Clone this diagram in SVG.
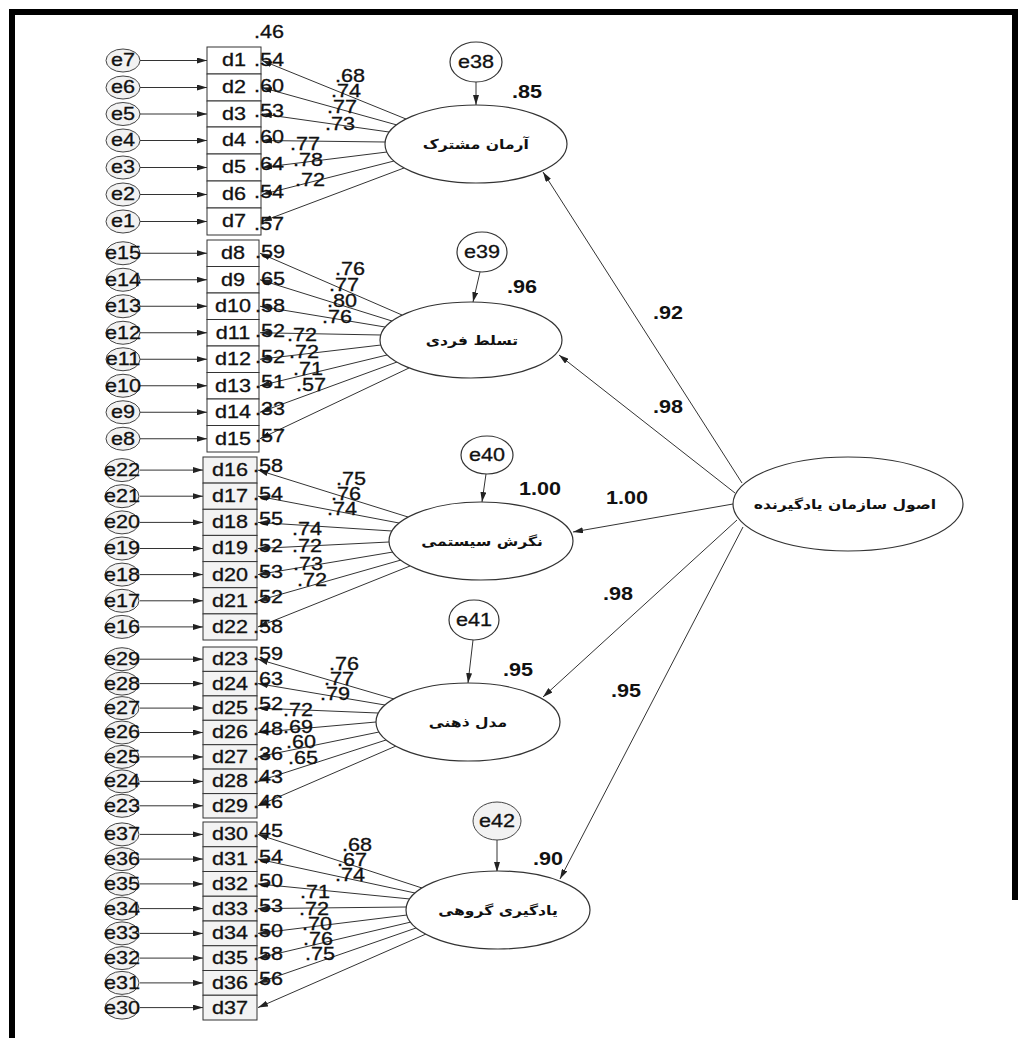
<svg xmlns="http://www.w3.org/2000/svg" width="1021" height="1038" viewBox="0 0 1021 1038">
<defs>
<marker id="ah" viewBox="0 0 10 6" refX="10" refY="3" markerWidth="10" markerHeight="6" markerUnits="userSpaceOnUse" orient="auto"><path d="M0,0L10,3L0,6z" fill="#222"/></marker>
<style>
.t{font-family:"Liberation Sans",Arial,sans-serif;font-size:18px;fill:#111;stroke:#111;stroke-width:0.3;text-anchor:middle;transform-box:fill-box;transform-origin:center;transform:scaleX(1.2)}
.b{font-weight:bold;stroke-width:0}
.fa{font-family:"DejaVu Sans",sans-serif;font-size:13px;font-weight:bold;fill:#111;text-anchor:middle;transform-box:fill-box;transform-origin:center;transform:scaleX(1.2)}
.ln{stroke:#333;stroke-width:1;fill:none;marker-end:url(#ah)}
.bx{fill:#fff;stroke:#333;stroke-width:1}
.bg{fill:#f3f3f3;stroke:#333;stroke-width:1}
.ec{fill:#f2f2f2;stroke:#444;stroke-width:1}
.lv{fill:#fff;stroke:#333;stroke-width:1.2}
</style>
</defs>
<rect width="1021" height="1038" fill="#fff"/>
<path d="M12,1038V12H1015V900" fill="none" stroke="#000" stroke-width="6"/>

<g id="connectors">
<line class="ln" x1="140" y1="60.5" x2="207" y2="60.5"/>
<line class="ln" x1="140" y1="87.5" x2="207" y2="87.5"/>
<line class="ln" x1="140" y1="114" x2="207" y2="114"/>
<line class="ln" x1="140" y1="140.5" x2="207" y2="140.5"/>
<line class="ln" x1="140" y1="167.5" x2="207" y2="167.5"/>
<line class="ln" x1="140" y1="194.5" x2="207" y2="194.5"/>
<line class="ln" x1="140" y1="221.5" x2="207" y2="221.5"/>
<line class="ln" x1="140" y1="253.25" x2="207" y2="253.25"/>
<line class="ln" x1="140" y1="279.75" x2="207" y2="279.75"/>
<line class="ln" x1="140" y1="306.25" x2="207" y2="306.25"/>
<line class="ln" x1="140" y1="332.75" x2="207" y2="332.75"/>
<line class="ln" x1="140" y1="359.25" x2="207" y2="359.25"/>
<line class="ln" x1="140" y1="385.75" x2="207" y2="385.75"/>
<line class="ln" x1="140" y1="412.25" x2="207" y2="412.25"/>
<line class="ln" x1="140" y1="438.75" x2="207" y2="438.75"/>
<line class="ln" x1="140" y1="470.1" x2="203" y2="470.1"/>
<line class="ln" x1="140" y1="496.2" x2="203" y2="496.2"/>
<line class="ln" x1="140" y1="522.4" x2="203" y2="522.4"/>
<line class="ln" x1="140" y1="548.5" x2="203" y2="548.5"/>
<line class="ln" x1="140" y1="574.6" x2="203" y2="574.6"/>
<line class="ln" x1="140" y1="600.8" x2="203" y2="600.8"/>
<line class="ln" x1="140" y1="626.9" x2="203" y2="626.9"/>
<line class="ln" x1="140" y1="659.2" x2="203" y2="659.2"/>
<line class="ln" x1="140" y1="683.6" x2="203" y2="683.6"/>
<line class="ln" x1="140" y1="708.1" x2="203" y2="708.1"/>
<line class="ln" x1="140" y1="732.5" x2="203" y2="732.5"/>
<line class="ln" x1="140" y1="756.9" x2="203" y2="756.9"/>
<line class="ln" x1="140" y1="781.4" x2="203" y2="781.4"/>
<line class="ln" x1="140" y1="805.8" x2="203" y2="805.8"/>
<line class="ln" x1="140" y1="834.4" x2="203" y2="834.4"/>
<line class="ln" x1="140" y1="859.1" x2="203" y2="859.1"/>
<line class="ln" x1="140" y1="883.9" x2="203" y2="883.9"/>
<line class="ln" x1="140" y1="908.6" x2="203" y2="908.6"/>
<line class="ln" x1="140" y1="933.4" x2="203" y2="933.4"/>
<line class="ln" x1="140" y1="958.1" x2="203" y2="958.1"/>
<line class="ln" x1="140" y1="982.9" x2="203" y2="982.9"/>
<line class="ln" x1="140" y1="1007.6" x2="203" y2="1007.6"/>
<line class="ln" x1="406" y1="119" x2="262" y2="60.5"/>
<line class="ln" x1="397" y1="125" x2="262" y2="87.5"/>
<line class="ln" x1="389" y1="132" x2="262" y2="114"/>
<line class="ln" x1="385" y1="142" x2="262" y2="140.5"/>
<line class="ln" x1="387" y1="152" x2="262" y2="167.5"/>
<line class="ln" x1="394" y1="161" x2="262" y2="194.5"/>
<line class="ln" x1="404" y1="168" x2="262" y2="221.5"/>
<line class="ln" x1="402" y1="315" x2="260" y2="253.25"/>
<line class="ln" x1="392" y1="321" x2="260" y2="279.75"/>
<line class="ln" x1="385" y1="327" x2="260" y2="306.25"/>
<line class="ln" x1="381" y1="335" x2="260" y2="332.75"/>
<line class="ln" x1="381" y1="345" x2="260" y2="359.25"/>
<line class="ln" x1="387" y1="355" x2="260" y2="385.75"/>
<line class="ln" x1="397" y1="362" x2="260" y2="412.25"/>
<line class="ln" x1="409" y1="368" x2="260" y2="438.75"/>
<line class="ln" x1="408" y1="517" x2="258" y2="470.1"/>
<line class="ln" x1="399" y1="523" x2="258" y2="496.2"/>
<line class="ln" x1="392" y1="531" x2="258" y2="522.4"/>
<line class="ln" x1="389" y1="542" x2="258" y2="548.5"/>
<line class="ln" x1="393" y1="552" x2="258" y2="574.6"/>
<line class="ln" x1="401" y1="560" x2="258" y2="600.8"/>
<line class="ln" x1="410" y1="566" x2="258" y2="626.9"/>
<line class="ln" x1="394" y1="699" x2="258" y2="659.2"/>
<line class="ln" x1="385" y1="705" x2="258" y2="683.6"/>
<line class="ln" x1="378" y1="713" x2="258" y2="708.1"/>
<line class="ln" x1="376" y1="722" x2="258" y2="732.5"/>
<line class="ln" x1="379" y1="732" x2="258" y2="756.9"/>
<line class="ln" x1="386" y1="740" x2="258" y2="781.4"/>
<line class="ln" x1="396" y1="746" x2="258" y2="805.8"/>
<line class="ln" x1="422" y1="888" x2="258" y2="834.4"/>
<line class="ln" x1="415" y1="893" x2="258" y2="859.1"/>
<line class="ln" x1="410" y1="899" x2="258" y2="883.9"/>
<line class="ln" x1="406" y1="907" x2="258" y2="908.6"/>
<line class="ln" x1="407" y1="915" x2="258" y2="933.4"/>
<line class="ln" x1="411" y1="922" x2="258" y2="958.1"/>
<line class="ln" x1="416" y1="928" x2="258" y2="982.9"/>
<line class="ln" x1="426" y1="934" x2="258" y2="1007.6"/>
<line class="ln" x1="476" y1="82" x2="476" y2="105"/>
<line class="ln" x1="480" y1="272" x2="473" y2="302"/>
<line class="ln" x1="486" y1="474" x2="482" y2="502"/>
<line class="ln" x1="473" y1="640" x2="468" y2="683"/>
<line class="ln" x1="497" y1="840" x2="497" y2="872"/>
<line class="ln" x1="742" y1="483" x2="543" y2="172"/>
<line class="ln" x1="735" y1="493" x2="559" y2="355"/>
<line class="ln" x1="733" y1="504" x2="573" y2="532"/>
<line class="ln" x1="737" y1="520" x2="543" y2="697"/>
<line class="ln" x1="743" y1="527" x2="560" y2="879"/>
</g>

<g id="e7"><ellipse class="ec" cx="123" cy="60.5" rx="17" ry="11.5"/><text class="t" x="123" y="66.5">e7</text></g>
<g id="e6"><ellipse class="ec" cx="123" cy="87.5" rx="17" ry="11.5"/><text class="t" x="123" y="93.5">e6</text></g>
<g id="e5"><ellipse class="ec" cx="123" cy="114" rx="17" ry="11.5"/><text class="t" x="123" y="120">e5</text></g>
<g id="e4"><ellipse class="ec" cx="123" cy="140.5" rx="17" ry="11.5"/><text class="t" x="123" y="146.5">e4</text></g>
<g id="e3"><ellipse class="ec" cx="123" cy="167.5" rx="17" ry="11.5"/><text class="t" x="123" y="173.5">e3</text></g>
<g id="e2"><ellipse class="ec" cx="123" cy="194.5" rx="17" ry="11.5"/><text class="t" x="123" y="200.5">e2</text></g>
<g id="e1"><ellipse class="ec" cx="123" cy="221.5" rx="17" ry="11.5"/><text class="t" x="123" y="227.5">e1</text></g>
<g id="e15"><ellipse class="ec" cx="123" cy="253.25" rx="17" ry="11.5"/><text class="t" x="123" y="259.25">e15</text></g>
<g id="e14"><ellipse class="ec" cx="123" cy="279.75" rx="17" ry="11.5"/><text class="t" x="123" y="285.75">e14</text></g>
<g id="e13"><ellipse class="ec" cx="123" cy="306.25" rx="17" ry="11.5"/><text class="t" x="123" y="312.25">e13</text></g>
<g id="e12"><ellipse class="ec" cx="123" cy="332.75" rx="17" ry="11.5"/><text class="t" x="123" y="338.75">e12</text></g>
<g id="e11"><ellipse class="ec" cx="123" cy="359.25" rx="17" ry="11.5"/><text class="t" x="123" y="365.25">e11</text></g>
<g id="e10"><ellipse class="ec" cx="123" cy="385.75" rx="17" ry="11.5"/><text class="t" x="123" y="391.75">e10</text></g>
<g id="e9"><ellipse class="ec" cx="123" cy="412.25" rx="17" ry="11.5"/><text class="t" x="123" y="418.25">e9</text></g>
<g id="e8"><ellipse class="ec" cx="123" cy="438.75" rx="17" ry="11.5"/><text class="t" x="123" y="444.75">e8</text></g>
<g id="e22"><ellipse class="ec" cx="122" cy="470.1" rx="17" ry="11.5"/><text class="t" x="122" y="476.1">e22</text></g>
<g id="e21"><ellipse class="ec" cx="122" cy="496.2" rx="17" ry="11.5"/><text class="t" x="122" y="502.2">e21</text></g>
<g id="e20"><ellipse class="ec" cx="122" cy="522.4" rx="17" ry="11.5"/><text class="t" x="122" y="528.4">e20</text></g>
<g id="e19"><ellipse class="ec" cx="122" cy="548.5" rx="17" ry="11.5"/><text class="t" x="122" y="554.5">e19</text></g>
<g id="e18"><ellipse class="ec" cx="122" cy="574.6" rx="17" ry="11.5"/><text class="t" x="122" y="580.6">e18</text></g>
<g id="e17"><ellipse class="ec" cx="122" cy="600.8" rx="17" ry="11.5"/><text class="t" x="122" y="606.8">e17</text></g>
<g id="e16"><ellipse class="ec" cx="122" cy="626.9" rx="17" ry="11.5"/><text class="t" x="122" y="632.9">e16</text></g>
<g id="e29"><ellipse class="ec" cx="122" cy="659.2" rx="17" ry="11.5"/><text class="t" x="122" y="665.2">e29</text></g>
<g id="e28"><ellipse class="ec" cx="122" cy="683.6" rx="17" ry="11.5"/><text class="t" x="122" y="689.6">e28</text></g>
<g id="e27"><ellipse class="ec" cx="122" cy="708.1" rx="17" ry="11.5"/><text class="t" x="122" y="714.1">e27</text></g>
<g id="e26"><ellipse class="ec" cx="122" cy="732.5" rx="17" ry="11.5"/><text class="t" x="122" y="738.5">e26</text></g>
<g id="e25"><ellipse class="ec" cx="122" cy="756.9" rx="17" ry="11.5"/><text class="t" x="122" y="762.9">e25</text></g>
<g id="e24"><ellipse class="ec" cx="122" cy="781.4" rx="17" ry="11.5"/><text class="t" x="122" y="787.4">e24</text></g>
<g id="e23"><ellipse class="ec" cx="122" cy="805.8" rx="17" ry="11.5"/><text class="t" x="122" y="811.8">e23</text></g>
<g id="e37"><ellipse class="ec" cx="122" cy="834.4" rx="17" ry="11.5"/><text class="t" x="122" y="840.4">e37</text></g>
<g id="e36"><ellipse class="ec" cx="122" cy="859.1" rx="17" ry="11.5"/><text class="t" x="122" y="865.1">e36</text></g>
<g id="e35"><ellipse class="ec" cx="122" cy="883.9" rx="17" ry="11.5"/><text class="t" x="122" y="889.9">e35</text></g>
<g id="e34"><ellipse class="ec" cx="122" cy="908.6" rx="17" ry="11.5"/><text class="t" x="122" y="914.6">e34</text></g>
<g id="e33"><ellipse class="ec" cx="122" cy="933.4" rx="17" ry="11.5"/><text class="t" x="122" y="939.4">e33</text></g>
<g id="e32"><ellipse class="ec" cx="122" cy="958.1" rx="17" ry="11.5"/><text class="t" x="122" y="964.1">e32</text></g>
<g id="e31"><ellipse class="ec" cx="122" cy="982.9" rx="17" ry="11.5"/><text class="t" x="122" y="988.9">e31</text></g>
<g id="e30"><ellipse class="ec" cx="122" cy="1007.6" rx="17" ry="11.5"/><text class="t" x="122" y="1013.6">e30</text></g>

<g id="d1"><rect class="bx" x="207" y="47" width="54" height="27"/><text class="t" x="234" y="66.5">d1</text></g>
<g id="d2"><rect class="bx" x="207" y="74" width="54" height="27"/><text class="t" x="234" y="93.5">d2</text></g>
<g id="d3"><rect class="bx" x="207" y="101" width="54" height="26"/><text class="t" x="234" y="120">d3</text></g>
<g id="d4"><rect class="bx" x="207" y="127" width="54" height="27"/><text class="t" x="234" y="146.5">d4</text></g>
<g id="d5"><rect class="bx" x="207" y="154" width="54" height="27"/><text class="t" x="234" y="173.5">d5</text></g>
<g id="d6"><rect class="bx" x="207" y="181" width="54" height="27"/><text class="t" x="234" y="200.5">d6</text></g>
<g id="d7"><rect class="bx" x="207" y="208" width="54" height="27"/><text class="t" x="234" y="227.5">d7</text></g>
<g id="d8"><rect class="bx" x="207" y="240" width="52" height="26.5"/><text class="t" x="233" y="259.25">d8</text></g>
<g id="d9"><rect class="bx" x="207" y="266.5" width="52" height="26.5"/><text class="t" x="233" y="285.75">d9</text></g>
<g id="d10"><rect class="bx" x="207" y="293" width="52" height="26.5"/><text class="t" x="233" y="312.25">d10</text></g>
<g id="d11"><rect class="bx" x="207" y="319.5" width="52" height="26.5"/><text class="t" x="233" y="338.75">d11</text></g>
<g id="d12"><rect class="bx" x="207" y="346" width="52" height="26.5"/><text class="t" x="233" y="365.25">d12</text></g>
<g id="d13"><rect class="bx" x="207" y="372.5" width="52" height="26.5"/><text class="t" x="233" y="391.75">d13</text></g>
<g id="d14"><rect class="bx" x="207" y="399" width="52" height="26.5"/><text class="t" x="233" y="418.25">d14</text></g>
<g id="d15"><rect class="bx" x="207" y="425.5" width="52" height="26.5"/><text class="t" x="233" y="444.75">d15</text></g>
<g id="d16"><rect class="bg" x="203" y="457" width="54" height="26.1"/><text class="t" x="230" y="476.1">d16</text></g>
<g id="d17"><rect class="bg" x="203" y="483.1" width="54" height="26.2"/><text class="t" x="230" y="502.2">d17</text></g>
<g id="d18"><rect class="bg" x="203" y="509.3" width="54" height="26.1"/><text class="t" x="230" y="528.4">d18</text></g>
<g id="d19"><rect class="bg" x="203" y="535.4" width="54" height="26.2"/><text class="t" x="230" y="554.5">d19</text></g>
<g id="d20"><rect class="bg" x="203" y="561.6" width="54" height="26.1"/><text class="t" x="230" y="580.6">d20</text></g>
<g id="d21"><rect class="bg" x="203" y="587.7" width="54" height="26.2"/><text class="t" x="230" y="606.8">d21</text></g>
<g id="d22"><rect class="bg" x="203" y="613.9" width="54" height="26.1"/><text class="t" x="230" y="632.9">d22</text></g>
<g id="d23"><rect class="bg" x="203" y="647" width="54" height="24.4"/><text class="t" x="230" y="665.2">d23</text></g>
<g id="d24"><rect class="bg" x="203" y="671.4" width="54" height="24.5"/><text class="t" x="230" y="689.6">d24</text></g>
<g id="d25"><rect class="bg" x="203" y="695.9" width="54" height="24.4"/><text class="t" x="230" y="714.1">d25</text></g>
<g id="d26"><rect class="bg" x="203" y="720.3" width="54" height="24.4"/><text class="t" x="230" y="738.5">d26</text></g>
<g id="d27"><rect class="bg" x="203" y="744.7" width="54" height="24.4"/><text class="t" x="230" y="762.9">d27</text></g>
<g id="d28"><rect class="bg" x="203" y="769.1" width="54" height="24.5"/><text class="t" x="230" y="787.4">d28</text></g>
<g id="d29"><rect class="bg" x="203" y="793.6" width="54" height="24.4"/><text class="t" x="230" y="811.8">d29</text></g>
<g id="d30"><rect class="bg" x="203" y="822" width="54" height="24.75"/><text class="t" x="230" y="840.4">d30</text></g>
<g id="d31"><rect class="bg" x="203" y="846.75" width="54" height="24.75"/><text class="t" x="230" y="865.1">d31</text></g>
<g id="d32"><rect class="bg" x="203" y="871.5" width="54" height="24.75"/><text class="t" x="230" y="889.9">d32</text></g>
<g id="d33"><rect class="bg" x="203" y="896.25" width="54" height="24.75"/><text class="t" x="230" y="914.6">d33</text></g>
<g id="d34"><rect class="bg" x="203" y="921" width="54" height="24.75"/><text class="t" x="230" y="939.4">d34</text></g>
<g id="d35"><rect class="bg" x="203" y="945.75" width="54" height="24.75"/><text class="t" x="230" y="964.1">d35</text></g>
<g id="d36"><rect class="bg" x="203" y="970.5" width="54" height="24.75"/><text class="t" x="230" y="988.9">d36</text></g>
<g id="d37"><rect class="bg" x="203" y="995.25" width="54" height="24.75"/><text class="t" x="230" y="1013.6">d37</text></g>

<g id="F1"><ellipse class="lv" cx="476" cy="144" rx="91" ry="39"/><text class="fa" x="476" y="149">آرمان مشترک</text></g>
<g id="F2"><ellipse class="lv" cx="471" cy="340" rx="91" ry="38"/><text class="fa" x="472" y="345">تسلط فردی</text></g>
<g id="F3"><ellipse class="lv" cx="481" cy="541" rx="92" ry="39"/><text class="fa" x="482" y="546">نگرش سیستمی</text></g>
<g id="F4"><ellipse class="lv" cx="468" cy="722" rx="92" ry="39"/><text class="fa" x="468" y="727">مدل ذهنی</text></g>
<g id="F5"><ellipse class="lv" cx="498" cy="910" rx="92" ry="39"/><text class="fa" x="498" y="915">یادگیری گروهی</text></g>
<g id="G"><ellipse class="lv" cx="848" cy="504" rx="115" ry="47"/><text class="fa" x="845" y="509">اصول سازمان یادگیرنده</text></g>

<g id="e38"><ellipse class="lv" cx="476" cy="62" rx="26" ry="20"/><text class="t" x="476" y="68">e38</text></g>
<g id="e39"><ellipse class="lv" cx="482" cy="252" rx="25" ry="20"/><text class="t" x="482" y="258">e39</text></g>
<g id="e40"><ellipse class="lv" cx="487" cy="455" rx="26" ry="19"/><text class="t" x="487" y="461">e40</text></g>
<g id="e41"><ellipse class="lv" cx="474" cy="620" rx="25" ry="20"/><text class="t" x="474" y="626">e41</text></g>
<g id="e42"><ellipse class="ec" cx="497" cy="821" rx="24" ry="19"/><text class="t" x="497" y="827">e42</text></g>

<g id="labels">
<text class="t" x="269" y="38">.46</text>
<text class="t" x="269" y="66">.54</text>
<text class="t" x="269" y="92">.60</text>
<text class="t" x="269" y="117">.53</text>
<text class="t" x="269" y="143">.60</text>
<text class="t" x="269" y="170">.64</text>
<text class="t" x="269" y="198">.54</text>
<text class="t" x="269" y="230">.57</text>
<text class="t" x="270" y="258">.59</text>
<text class="t" x="270" y="285">.65</text>
<text class="t" x="270" y="312">.58</text>
<text class="t" x="270" y="337">.52</text>
<text class="t" x="270" y="363">.52</text>
<text class="t" x="270" y="388">.51</text>
<text class="t" x="270" y="415">.33</text>
<text class="t" x="270" y="442">.57</text>
<text class="t" x="268" y="472">.58</text>
<text class="t" x="268" y="500">.54</text>
<text class="t" x="268" y="525">.55</text>
<text class="t" x="268" y="552">.52</text>
<text class="t" x="268" y="578">.53</text>
<text class="t" x="268" y="603">.52</text>
<text class="t" x="268" y="633">.58</text>
<text class="t" x="268" y="660">.59</text>
<text class="t" x="268" y="685">.63</text>
<text class="t" x="268" y="710">.52</text>
<text class="t" x="268" y="735">.48</text>
<text class="t" x="268" y="760">.36</text>
<text class="t" x="268" y="783">.43</text>
<text class="t" x="268" y="808">.46</text>
<text class="t" x="268" y="837">.45</text>
<text class="t" x="268" y="863">.54</text>
<text class="t" x="268" y="887">.50</text>
<text class="t" x="268" y="912">.53</text>
<text class="t" x="268" y="937">.50</text>
<text class="t" x="268" y="960">.58</text>
<text class="t" x="268" y="985">.56</text>

<text class="t" x="350" y="82">.68</text>
<text class="t" x="346" y="97">.74</text>
<text class="t" x="342" y="113">.77</text>
<text class="t" x="340" y="130">.73</text>
<text class="t" x="305" y="150">.77</text>
<text class="t" x="308" y="166">.78</text>
<text class="t" x="310" y="186">.72</text>
<text class="t" x="350" y="275">.76</text>
<text class="t" x="344" y="291">.77</text>
<text class="t" x="342" y="307">.80</text>
<text class="t" x="337" y="323">.76</text>
<text class="t" x="302" y="341">.72</text>
<text class="t" x="304" y="358">.72</text>
<text class="t" x="308" y="375">.71</text>
<text class="t" x="311" y="391">.57</text>
<text class="t" x="351" y="485">.75</text>
<text class="t" x="346" y="500">.76</text>
<text class="t" x="342" y="515">.74</text>
<text class="t" x="307" y="535">.74</text>
<text class="t" x="307" y="552">.72</text>
<text class="t" x="308" y="570">.73</text>
<text class="t" x="312" y="586">.72</text>
<text class="t" x="344" y="670">.76</text>
<text class="t" x="339" y="685">.77</text>
<text class="t" x="335" y="700">.79</text>
<text class="t" x="298" y="716">.72</text>
<text class="t" x="298" y="733">.69</text>
<text class="t" x="301" y="748">.60</text>
<text class="t" x="303" y="764">.65</text>
<text class="t" x="357" y="851">.68</text>
<text class="t" x="352" y="866">.67</text>
<text class="t" x="350" y="881">.74</text>
<text class="t" x="315" y="898">.71</text>
<text class="t" x="314" y="915">.72</text>
<text class="t" x="317" y="930">.70</text>
<text class="t" x="318" y="945">.76</text>
<text class="t" x="320" y="960">.75</text>

<text class="t b" x="527" y="98">.85</text>
<text class="t b" x="522" y="293">.96</text>
<text class="t b" x="540" y="495">1.00</text>
<text class="t b" x="518" y="676">.95</text>
<text class="t b" x="548" y="865">.90</text>
<text class="t b" x="668" y="319">.92</text>
<text class="t b" x="668" y="413">.98</text>
<text class="t b" x="627" y="504">1.00</text>
<text class="t b" x="618" y="600">.98</text>
<text class="t b" x="626" y="697">.95</text>
</g>
</svg>
